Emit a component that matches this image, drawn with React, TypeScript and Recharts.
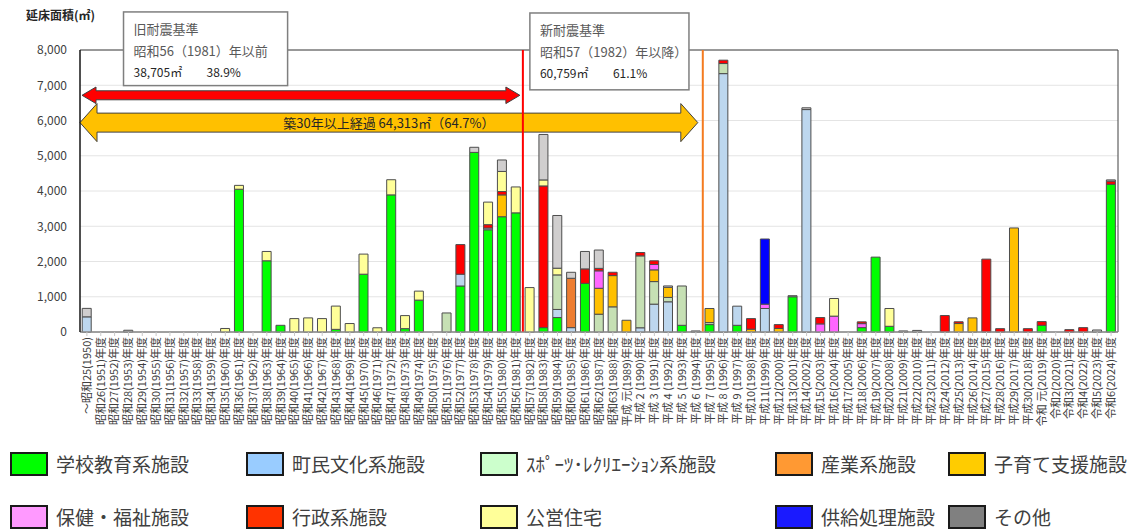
import React from 'react';
import { Bar, BarChart, CartesianGrid, Legend, ReferenceArea, ReferenceLine, XAxis, YAxis } from 'recharts';

const FONT = '"Noto Sans CJK JP", "Noto Sans", sans-serif';

// fiscal years, oldest first
const YEAR_LABELS = [
  '～昭和25(1950)', '昭和26(1951)年度', '昭和27(1952)年度', '昭和28(1953)年度', '昭和29(1954)年度',
  '昭和30(1955)年度', '昭和31(1956)年度', '昭和32(1957)年度', '昭和33(1958)年度', '昭和34(1959)年度',
  '昭和35(1960)年度', '昭和36(1961)年度', '昭和37(1962)年度', '昭和38(1963)年度', '昭和39(1964)年度',
  '昭和40(1965)年度', '昭和41(1966)年度', '昭和42(1967)年度', '昭和43(1968)年度', '昭和44(1969)年度',
  '昭和45(1970)年度', '昭和46(1971)年度', '昭和47(1972)年度', '昭和48(1973)年度', '昭和49(1974)年度',
  '昭和50(1975)年度', '昭和51(1976)年度', '昭和52(1977)年度', '昭和53(1978)年度', '昭和54(1979)年度',
  '昭和55(1980)年度', '昭和56(1981)年度', '昭和57(1982)年度', '昭和58(1983)年度', '昭和59(1984)年度',
  '昭和60(1985)年度', '昭和61(1986)年度', '昭和62(1987)年度', '昭和63(1988)年度', '平成 元(1989)年度',
  '平成 2 (1990)年度', '平成 3 (1991)年度', '平成 4 (1992)年度', '平成 5 (1993)年度', '平成 6 (1994)年度',
  '平成 7 (1995)年度', '平成 8 (1996)年度', '平成 9 (1997)年度', '平成10(1998)年度', '平成11(1999)年度',
  '平成12(2000)年度', '平成13(2001)年度', '平成14(2002)年度', '平成15(2003)年度', '平成16(2004)年度',
  '平成17(2005)年度', '平成18(2006)年度', '平成19(2007)年度', '平成20(2008)年度', '平成21(2009)年度',
  '平成22(2010)年度', '平成23(2011)年度', '平成24(2012)年度', '平成25(2013)年度', '平成26(2014)年度',
  '平成27(2015)年度', '平成28(2016)年度', '平成29(2017)年度', '平成30(2018)年度', '令和 元(2019)年度',
  '令和2(2020)年度', '令和3(2021)年度', '令和4(2022)年度', '令和5(2023)年度', '令和6(2024)年度',
];

// floor area (㎡) per facility type, one value per year above
const school = [
  0, 0, 0, 0, 0, 0, 0, 0, 0, 0, 0, 4050, 0, 2020, 190, 0, 0, 0, 75, 0,
  1640, 0, 3890, 95, 905, 0, 0, 1305, 5095, 2900, 3270, 3380, 0, 124, 410, 0, 1380, 0, 0, 0,
  0, 0, 0, 190, 0, 210, 0, 190, 0, 0, 0, 1000, 0, 0, 0, 0, 124, 2124, 162, 0,
  0, 0, 0, 0, 0, 0, 0, 0, 0, 190, 0, 0, 0, 0, 4190,
];
const culture = [
  430, 0, 0, 0, 0, 0, 0, 0, 0, 0, 0, 0, 0, 0, 0, 0, 0, 0, 0, 0,
  0, 0, 0, 0, 0, 0, 0, 335, 0, 50, 0, 0, 0, 0, 230, 124, 0, 0, 0, 0,
  120, 790, 857, 0, 0, 0, 7330, 543, 0, 667, 0, 0, 6310, 0, 0, 0, 0, 0, 0, 0,
  0, 0, 0, 0, 0, 0, 0, 0, 0, 0, 0, 0, 0, 0, 0,
];
const sports = [
  0, 0, 0, 0, 0, 0, 0, 0, 0, 0, 0, 0, 0, 0, 0, 0, 0, 0, 0, 0,
  0, 0, 0, 0, 0, 0, 540, 0, 0, 0, 0, 0, 0, 0, 980, 0, 0, 505, 714, 0,
  2040, 640, 124, 1115, 0, 57, 286, 0, 0, 0, 0, 0, 0, 0, 0, 0, 0, 0, 0, 0,
  0, 0, 0, 0, 0, 0, 0, 0, 0, 0, 0, 0, 0, 0, 0,
];
const industry = [
  0, 0, 0, 0, 0, 0, 0, 0, 0, 0, 0, 0, 0, 0, 0, 0, 0, 0, 0, 0,
  0, 0, 0, 0, 0, 0, 0, 0, 0, 0, 0, 0, 0, 0, 0, 1400, 0, 0, 0, 0,
  0, 0, 0, 0, 0, 0, 0, 0, 0, 0, 0, 0, 0, 0, 0, 0, 0, 0, 0, 0,
  0, 0, 0, 0, 0, 0, 0, 0, 0, 0, 0, 0, 0, 0, 0,
];
const childcare = [
  0, 0, 0, 0, 0, 0, 0, 0, 0, 0, 0, 0, 0, 0, 0, 0, 0, 0, 0, 0,
  0, 0, 0, 0, 0, 0, 0, 0, 0, 0, 620, 0, 0, 0, 0, 0, 0, 735, 886, 333,
  0, 333, 286, 0, 0, 400, 0, 0, 80, 0, 100, 0, 0, 0, 0, 0, 0, 0, 0, 0,
  0, 0, 0, 240, 400, 0, 0, 2952, 0, 0, 0, 0, 0, 0, 0,
];
const welfare = [
  0, 0, 0, 0, 0, 0, 0, 0, 0, 0, 0, 0, 0, 0, 0, 0, 0, 0, 0, 0,
  0, 0, 0, 0, 0, 0, 0, 0, 0, 0, 0, 0, 0, 0, 0, 0, 0, 495, 0, 0,
  0, 152, 0, 0, 0, 0, 0, 0, 0, 123, 0, 0, 0, 230, 450, 0, 114, 0, 0, 0,
  0, 0, 0, 0, 0, 0, 0, 0, 0, 0, 0, 0, 0, 0, 0,
];
const admin = [
  0, 0, 0, 0, 0, 0, 0, 0, 0, 0, 0, 0, 0, 0, 0, 0, 0, 0, 0, 0,
  0, 0, 0, 0, 0, 0, 0, 840, 0, 95, 95, 0, 0, 4020, 0, 0, 410, 70, 95, 0,
  95, 105, 0, 0, 0, 0, 95, 0, 300, 0, 110, 0, 0, 180, 0, 0, 50, 0, 0, 0,
  0, 0, 467, 50, 0, 2067, 95, 0, 95, 105, 0, 67, 124, 0, 90,
];
const housing = [
  0, 0, 0, 0, 0, 0, 0, 0, 0, 0, 100, 110, 0, 265, 0, 380, 400, 380, 660, 240,
  570, 120, 430, 370, 255, 0, 0, 0, 0, 640, 570, 735, 1260, 170, 190, 0, 0, 0, 0, 0,
  0, 0, 0, 0, 0, 0, 0, 0, 0, 0, 0, 0, 0, 0, 500, 0, 0, 0, 505, 0,
  0, 0, 0, 0, 0, 0, 0, 0, 0, 0, 0, 0, 0, 0, 0,
];
const supply = [
  0, 0, 0, 0, 0, 0, 0, 0, 0, 0, 0, 0, 0, 0, 0, 0, 0, 0, 0, 0,
  0, 0, 0, 0, 0, 0, 0, 0, 0, 0, 0, 0, 0, 0, 0, 0, 0, 0, 0, 0,
  0, 0, 0, 0, 0, 0, 0, 0, 0, 1848, 0, 0, 0, 0, 0, 0, 0, 0, 0, 0,
  0, 0, 0, 0, 0, 0, 0, 0, 0, 0, 0, 0, 0, 0, 0,
];
const other = [
  240, 0, 0, 50, 0, 0, 0, 0, 0, 0, 0, 0, 0, 0, 0, 0, 0, 0, 0, 0,
  0, 0, 0, 0, 0, 0, 0, 0, 145, 0, 325, 0, 0, 1290, 1495, 170, 495, 520, 0, 0,
  0, 0, 40, 0, 30, 0, 0, 0, 0, 0, 0, 30, 50, 0, 0, 0, 0, 0, 0, 30,
  45, 0, 0, 0, 0, 0, 0, 0, 0, 0, 0, 0, 0, 57, 35,
];

const Y_TICKS = [0, 1000, 2000, 3000, 4000, 5000, 6000, 7000, 8000];

// stacking order bottom -> top, same as legend order
const SERIES = [
  { key: 'school', name: '学校教育系施設', values: school, fill: '#00ff00', legend: '#00ff00' },
  { key: 'culture', name: '町民文化系施設', values: culture, fill: '#bdd7ee', legend: '#99ccff' },
  { key: 'sports', name: 'ｽﾎﾟｰﾂ･ﾚｸﾘｴｰｼｮﾝ系施設', values: sports, fill: '#c6e0b4', legend: '#ccffcc' },
  { key: 'industry', name: '産業系施設', values: industry, fill: '#ed7d31', legend: '#ff9933' },
  { key: 'childcare', name: '子育て支援施設', values: childcare, fill: '#ffc000', legend: '#ffcc00' },
  { key: 'welfare', name: '保健・福祉施設', values: welfare, fill: '#ff66ff', legend: '#ff99ff' },
  { key: 'admin', name: '行政系施設', values: admin, fill: '#ff0000', legend: '#ff3300' },
  { key: 'housing', name: '公営住宅', values: housing, fill: '#ffff99', legend: '#ffff99' },
  { key: 'supply', name: '供給処理施設', values: supply, fill: '#0000ff', legend: '#1a1aff' },
  { key: 'other', name: 'その他', values: other, fill: '#d0cece', legend: '#808080' },
];

const data = YEAR_LABELS.map((year, i) => {
  const row: any = { year };
  SERIES.forEach((s) => { row[s.key] = s.values[i]; });
  return row;
});

const LEGEND_COLS = [10, 246, 480, 775, 948];

const YearTick = ({ x, y, payload }: any) => (
  <text
    x={x}
    y={y}
    dy="0.35em"
    transform={`rotate(-90, ${x}, ${y})`}
    textAnchor="end"
    fontSize={11}
    fill="#404040"
    fontFamily={FONT}
  >
    {payload.value}
  </text>
);

const arrowShape = (fill: string, body: number, head: number, inset: [number, number], label?: string) => (props: any) => {
  const { x, y, width, height } = props;
  const x0 = x + inset[0];
  const x1 = x + width - inset[1];
  const cy = y + height / 2;
  const h = height / 2;
  const b = body / 2;
  const pts = [
    [x0, cy], [x0 + head, cy - h], [x0 + head, cy - b], [x1 - head, cy - b], [x1 - head, cy - h],
    [x1, cy], [x1 - head, cy + h], [x1 - head, cy + b], [x0 + head, cy + b], [x0 + head, cy + h],
  ].map((p) => p.join(',')).join(' ');
  return (
    <g>
      <polygon points={pts} fill={fill} stroke="#404040" strokeWidth={1} />
      {label && (
        <text x={(x0 + x1) / 2} y={cy + 5} textAnchor="middle" fontSize={13} fill="#262626" fontFamily={FONT}>
          {label}
        </text>
      )}
    </g>
  );
};

const infoBox = (title: string, period: string, area: string, share: string, inset: number) => (props: any) => {
  const { x, y, width, height } = props;
  const left = x + inset;
  return (
    <g fontFamily={FONT}>
      <rect x={left} y={y} width={width - inset} height={height} fill="#fff" stroke="#7f7f7f" strokeWidth={1.5} />
      <text x={left + 10} y={y + 22} fontSize={13} fill="#595959">{title}</text>
      <text x={left + 10} y={y + 44} fontSize={13} fill="#595959">{period}</text>
      <text x={left + 10} y={y + 65} fontSize={12} fill="#262626">{area}</text>
      <text x={left + 83} y={y + 65} fontSize={12} fill="#262626">{share}</text>
    </g>
  );
};

const LegendBlock = () => (
  <div style={{ position: 'relative', width: 1132, height: 90, fontFamily: FONT }}>
    {SERIES.map((s, i) => (
      <div
        key={s.key}
        style={{
          position: 'absolute',
          left: LEGEND_COLS[i % 5],
          top: i < 5 ? 10 : 63,
          display: 'flex',
          alignItems: 'center',
          height: 24,
        }}
      >
        <span
          style={{
            display: 'inline-block',
            width: 34,
            height: 20,
            background: s.legend,
            border: '2px solid #1a1a1a',
            marginRight: 8,
          }}
        />
        <span style={{ fontSize: 19, color: '#404040', whiteSpace: 'nowrap', lineHeight: '24px' }}>{s.name}</span>
      </div>
    ))}
  </div>
);

export default function App() {
  return (
    <div style={{ position: 'absolute', left: 0, top: 0, width: 1132, height: 532, background: '#fff', fontFamily: FONT }}>
      <div style={{ position: 'absolute', left: 26, top: 6, fontSize: 12, fontWeight: 700, color: '#262626', zIndex: 2 }}>
        延床面積(㎡)
      </div>
      <BarChart
        width={1132}
        height={532}
        data={data}
        margin={{ top: 50, right: 14, bottom: 0, left: 0 }}
        barCategoryGap="16%"
      >
        <CartesianGrid vertical={false} stroke="#e4e4e4" />
        <XAxis
          dataKey="year"
          interval={0}
          height={110}
          tick={<YearTick />}
          tickSize={4}
          tickMargin={1}
          tickLine={{ stroke: '#c8c8c8' }}
          axisLine={{ stroke: '#a6a6a6' }}
        />
        <YAxis
          width={80}
          domain={[0, 8000]}
          ticks={Y_TICKS}
          tickFormatter={(v: number) => v.toLocaleString('en-US')}
          tickLine={false}
          tickMargin={7}
          axisLine={{ stroke: '#000' }}
          tick={{ fontSize: 12, fill: '#404040', fontFamily: FONT }}
        />
        <Legend verticalAlign="bottom" height={90} content={<LegendBlock />} wrapperStyle={{ left: 0, width: 1132 }} />
        {SERIES.map((s) => (
          <Bar
            key={s.key}
            dataKey={s.key}
            name={s.name}
            stackId="area"
            fill={s.fill}
            stroke="#4d4d4d"
            strokeWidth={1}
            isAnimationActive={false}
          />
        ))}
        {/* plot frame */}
        <ReferenceArea y1={0} y2={8000} fill="none" fillOpacity={0} stroke="#404040" strokeWidth={1} />
        {/* 1981 / 1982 boundary and 30-year boundary */}
        <ReferenceLine x={YEAR_LABELS[32]} position="start" stroke="#ff0000" strokeWidth={2} />
        <ReferenceLine x={YEAR_LABELS[45]} position="start" stroke="#f47b20" strokeWidth={2} />
        <ReferenceArea
          x1={YEAR_LABELS[0]}
          x2={YEAR_LABELS[31]}
          y1={6480}
          y2={6950}
          shape={arrowShape('#ff0000', 9, 14, [2, 3])}
        />
        <ReferenceArea
          x1={YEAR_LABELS[0]}
          x2={YEAR_LABELS[44]}
          y1={5400}
          y2={6480}
          shape={arrowShape('#ffc000', 19, 17, [0, 5], '築30年以上経過  64,313㎡（64.7%）')}
        />
        <ReferenceArea
          x1={YEAR_LABELS[3]}
          x2={YEAR_LABELS[14]}
          y1={6990}
          y2={9080}
          ifOverflow="visible"
          shape={infoBox('旧耐震基準', '昭和56（1981）年以前', '38,705㎡', '38.9%', 2)}
        />
        <ReferenceArea
          x1={YEAR_LABELS[32]}
          x2={YEAR_LABELS[43]}
          y1={6870}
          y2={9050}
          ifOverflow="visible"
          shape={infoBox('新耐震基準', '昭和57（1982）年以降）', '60,759㎡', '61.1%', 7)}
        />
      </BarChart>
    </div>
  );
}
